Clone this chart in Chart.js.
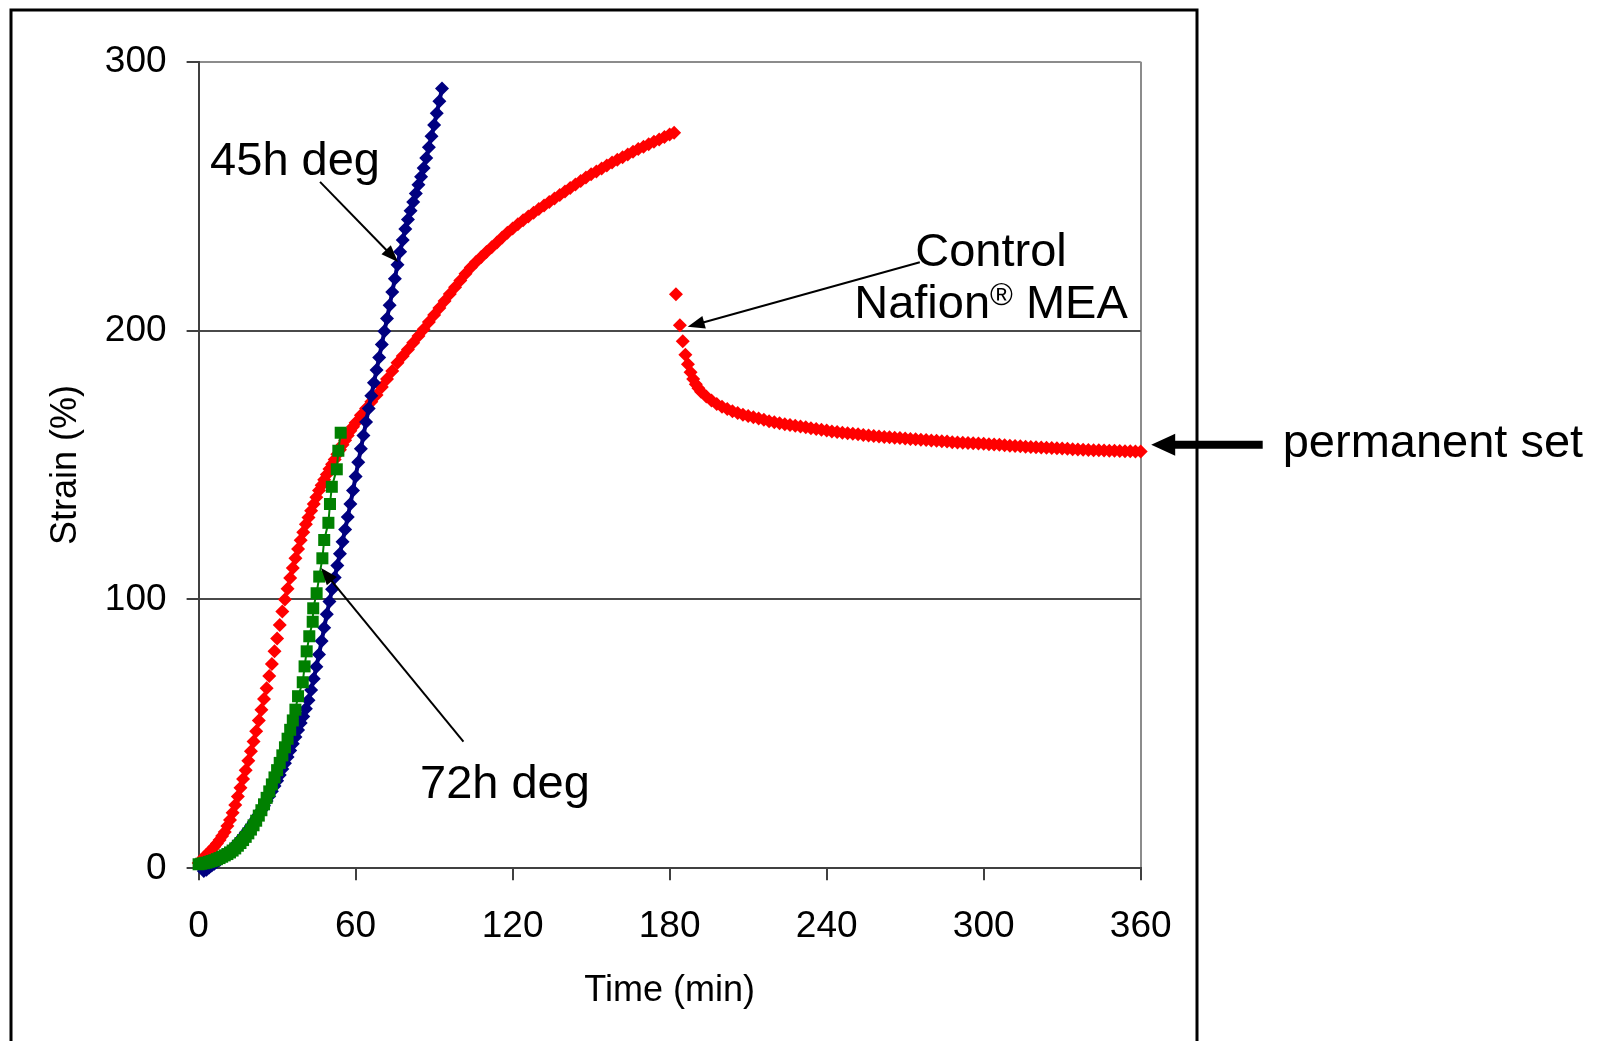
<!DOCTYPE html>
<html>
<head>
<meta charset="utf-8">
<script src="https://cdn.jsdelivr.net/npm/chart.js@4.4.1/dist/chart.umd.min.js"></script>
<style>
  html, body { margin: 0; padding: 0; background: #ffffff; }
  #wrap { width: 1597px; height: 1041px; position: relative; }
  canvas { display: block; }
</style>
</head>
<body>
<div id="wrap"><canvas id="c" width="1597" height="1041" style="width:1597px;height:1041px"></canvas></div>
<script>
// ---------------- data ----------------
const xTicks = [0, 60, 120, 180, 240, 300, 360];
const yTicks = [0, 100, 200, 300];

// 45h degraded (navy diamonds)
const blueTime = [2,3,4,5,6,7,8,9,10,11,12,13,14,15,16,17,18,19,20,21,22,23,24,25,26,27,28,29,30,31,32,33,34,35,36,37,38,39,40,41,42,43,44,45,46,47,48,49,50,51,52,53,54,55,56,57,58,59,60,61,62,63,64,65,66,67,68,69,70,71,72,73,74,75,76,77,78,79,80,81,82,83,84,85,86,87,88,89,90,91,92,93];
const blueStrain = [-1,-0.5,0.3,1.0,1.7,2.4,3.1,3.9,4.7,5.6,6.5,7.5,8.5,9.6,10.7,11.9,13.1,14.4,15.7,17.1,18.5,20.0,21.6,23.3,25.0,26.8,28.7,30.6,32.6,34.7,36.9,39.1,41.4,43.8,46.3,48.8,51.4,54.0,56.5,59.3,62.5,66.3,70.5,75.0,79.5,84.5,89.5,94.5,99.2,103.8,108.2,112.6,117.0,121.5,126.0,130.7,135.5,140.5,145.7,151.0,156.0,161.0,166.0,171.0,175.8,180.6,185.3,190.0,194.8,199.7,204.5,209.4,214.3,219.3,224.5,229.3,233.7,237.8,241.3,244.6,247.8,251.0,254.2,257.2,260.5,264.2,268.2,272.3,276.5,280.8,285.3,290.0];

// 72h degraded (green squares)
const greenTime = [0,1,2,3,4,5,6,7,8,9,10,11,12,13,14,15,16,17,18,19,20,21,22,23,24,25,26,27,28,29,30,31,32,33,34,35,36,37,38,39.8,40.5,41.3,42.3,43.6,43.8,45.1,46.1,47.3,48.0,49.6,50.2,50.9,52.8,53.4,54.3];
const greenStrain = [1.5,1.7,1.9,2.1,2.4,2.7,3.0,3.4,3.8,4.3,4.8,5.3,5.9,6.6,7.4,8.4,9.4,10.5,11.7,13.0,14.4,16.0,17.7,19.6,21.6,23.8,26.2,28.6,31.2,33.8,36.5,39.2,42.0,45.0,48.2,51.5,55.0,59.0,64.0,69.2,75.1,80.7,86.3,91.7,96.7,102.3,108.5,115.3,122.1,128.5,135.5,141.9,148.4,155.3,162.0];

// Control Nafion MEA (red diamonds): loading then recovery
const controlTime = [0,1,2,3,4,5,6,7,8,9,10,11,12,13,14,15,16,17,18,19,20,21,22,23,24,25,26,27,28,29,30,31,32,33,34,35,36,37,38,39,40,41,42,43,44,45,46,47,48,49,50,51,52,53,54,55,56,57,58,59,60,
  62,64,66,68,70,72,74,76,78,80,82,84,86,88,90,92,94,96,98,100,102,104,106,108,110,112,114,116,118,120,122,124,126,128,130,132,134,136,138,140,142,144,146,148,150,152,154,156,158,160,162,164,166,168,170,172,174,176,178,180,181.7,
  182.4,183.9,185,186,187,188,189,190,191,192,194,196,198,200,202,204,206,208,210,212,214,216,218,220,222,224,226,228,230,232,234,236,238,240,242,244,246,248,250,252,254,256,258,260,262,264,266,268,270,272,274,276,278,280,282,284,286,288,290,292,294,296,298,300,302,304,306,308,310,312,314,316,318,320,322,324,326,328,330,332,334,336,338,340,342,344,346,348,350,352,354,356,358,360];
const controlStrain = [2,3,4,5,6,7,8,9.2,10.5,12,13.5,15.7,18,20.7,23.5,26.7,30,33.2,36.5,40,43.5,47.2,51,55,59,63,67,71.5,76,80.7,85.5,90.5,95.5,100,104,108,111.7,115.3,118.8,122,125,128,130.5,133,135.5,138,140.5,142.5,144.5,146.5,148.5,150.3,152,154,155.7,157.5,159.2,161,162.7,164.2,165.7,
  168.5,171,173.5,176,179,182,185,188,190.5,193,195.5,198,200.5,203.2,205.8,208.4,211,213.6,216.1,218.6,221.1,223.5,225.5,227.4,229.2,231,232.8,234.6,236.4,238,239.5,241,242.4,243.8,245.2,246.5,247.8,249.1,250.4,251.7,253,254.3,255.6,256.9,258.1,259.2,260.3,261.4,262.5,263.5,264.5,265.5,266.5,267.5,268.4,269.3,270.2,271.1,272,272.9,273.6,
  213.5,202,196,191,187.5,184.5,182,180,178.5,177.2,175.5,174,172.7,171.7,170.8,170,169.3,168.7,168.2,167.8,167.3,166.8,166.3,165.9,165.5,165.2,164.9,164.6,164.3,164,163.7,163.4,163.1,162.8,162.5,162.3,162,161.8,161.6,161.4,161.2,161,160.8,160.6,160.4,160.3,160.1,160,159.9,159.7,159.6,159.4,159.3,159.1,159,158.8,158.7,158.5,158.4,158.3,158.2,158.1,158,157.9,157.7,157.6,157.5,157.3,157.2,157.1,157,156.8,156.7,156.6,156.5,156.4,156.3,156.2,156.1,156,155.9,155.8,155.7,155.6,155.5,155.5,155.4,155.3,155.3,155.2,155.1,155.1,155,155];

const seriesNames = ['45h deg', '72h deg', 'Control Nafion® MEA'];
const xTitle = 'Time (min)';
const yTitle = 'Strain (%)';

// ---------------- helpers ----------------
const FONT = "'Liberation Sans', Arial, Helvetica, sans-serif";
Chart.defaults.font.family = FONT;
const pts = (xs, ys) => xs.map((x, i) => ({ x: x, y: ys[i] }));

function arrow(ctx, x1, y1, x2, y2, lw, headLen, headHalf) {
  const a = Math.atan2(y2 - y1, x2 - x1);
  const bx = x2 - Math.cos(a) * headLen, by = y2 - Math.sin(a) * headLen;
  ctx.save();
  ctx.strokeStyle = '#000'; ctx.fillStyle = '#000'; ctx.lineWidth = lw; ctx.lineCap = 'butt';
  ctx.beginPath(); ctx.moveTo(x1, y1); ctx.lineTo(bx + Math.cos(a) * 2, by + Math.sin(a) * 2); ctx.stroke();
  ctx.beginPath();
  ctx.moveTo(x2, y2);
  ctx.lineTo(bx + Math.cos(a + Math.PI / 2) * headHalf, by + Math.sin(a + Math.PI / 2) * headHalf);
  ctx.lineTo(bx - Math.cos(a + Math.PI / 2) * headHalf, by - Math.sin(a + Math.PI / 2) * headHalf);
  ctx.closePath(); ctx.fill();
  ctx.restore();
}

const decor = {
  id: 'decor',
  afterDraw(chart) {
    const ctx = chart.ctx;
    const xs = chart.scales.x, ys = chart.scales.y;
    const X = v => xs.getPixelForValue(v), Y = v => ys.getPixelForValue(v);
    const area = chart.chartArea;
    ctx.save();
    // outer frame
    ctx.strokeStyle = '#000'; ctx.lineWidth = 3;
    ctx.beginPath();
    ctx.moveTo(11, 1100); ctx.lineTo(11, 10); ctx.lineTo(1197, 10); ctx.lineTo(1197, 1100);
    ctx.stroke();

    ctx.fillStyle = '#000';
    ctx.font = '47px ' + FONT;
    ctx.textBaseline = 'alphabetic';
    // 45h deg
    ctx.textAlign = 'left';
    ctx.fillText('45h deg', X(4.4), Y(257.9));
    arrow(ctx, X(46.4), Y(255.3), X(76.2), Y(225.5), 2, 17, 6.5);
    // 72h deg
    ctx.fillText('72h deg', X(84.6), Y(26.2));
    arrow(ctx, X(101.2), Y(47.1), X(46.8), Y(111.7), 2, 17, 6.5);
    // Control Nafion MEA
    const cx = X(302.8);
    ctx.textAlign = 'center';
    ctx.fillText('Control', cx, Y(224.0));
    const p1 = 'Nafion', p2 = '\u00AE', p3 = ' MEA';
    ctx.font = '47px ' + FONT; const w1 = ctx.measureText(p1).width, w3 = ctx.measureText(p3).width;
    ctx.font = '31px ' + FONT; const w2 = ctx.measureText(p2).width;
    let sx = cx - (w1 + w2 + w3) / 2;
    const by = Y(204.7);
    ctx.textAlign = 'left';
    ctx.font = '47px ' + FONT; ctx.fillText(p1, sx, by); sx += w1;
    ctx.font = '31px ' + FONT; ctx.fillText(p2, sx, by - 13); sx += w2;
    ctx.font = '47px ' + FONT; ctx.fillText(p3, sx, by);
    arrow(ctx, X(275.6), Y(225.4), X(186.9), Y(201.4), 2, 17, 6.5);
    // permanent set
    const ay = Y(157.5);
    arrow(ctx, area.right + 122, ay, area.right + 10.5, ay, 8, 24, 11);
    ctx.font = '47px ' + FONT; ctx.textAlign = 'left';
    ctx.fillText('permanent set', area.right + 142, Y(152.9));
    ctx.restore();
  }
};

const tickFont = { family: FONT, size: 37 };
const titleFont = { family: FONT, size: 36 };

new Chart(document.getElementById('c').getContext('2d'), {
  type: 'scatter',
  data: {
    datasets: [
      { label: seriesNames[1], data: pts(greenTime, greenStrain), order: 1, showLine: true,
        borderColor: '#008000', borderWidth: 2, backgroundColor: '#008000',
        pointStyle: 'rect', pointRadius: 8.5, pointBorderWidth: 0, pointBackgroundColor: '#008000', clip: false },
      { label: seriesNames[0], data: pts(blueTime, blueStrain), order: 2, showLine: true,
        borderColor: '#000080', borderWidth: 4, backgroundColor: '#000080',
        pointStyle: 'rectRot', pointRadius: 7, pointBorderWidth: 0, pointBackgroundColor: '#000080', clip: false },
      { label: seriesNames[2], data: pts(controlTime, controlStrain), order: 3, showLine: false,
        backgroundColor: '#ff0000', borderColor: '#ff0000',
        pointStyle: 'rectRot', pointRadius: 7, pointBorderWidth: 0, clip: false }
    ]
  },
  options: {
    responsive: false,
    animation: false,
    devicePixelRatio: 1,
    layout: { padding: { left: 0, top: 61.7, right: 1597 - 1140.7, bottom: 0 } },
    plugins: { legend: { display: false }, tooltip: { enabled: false } },
    scales: {
      x: {
        type: 'linear', position: 'bottom', min: 0, max: 360,
        afterBuildTicks: s => { s.ticks = xTicks.map(v => ({ value: v })); },
        afterFit: s => { s.height = 1041 - 868.3; },
        ticks: { font: tickFont, color: '#000', padding: 24, maxRotation: 0, autoSkip: false },
        grid: {
          color: c => (c.tick && c.tick.value === 360) ? '#8c8c8c' : 'rgba(0,0,0,0)',
          lineWidth: 2, tickLength: 12, tickColor: '#404040', tickWidth: 2
        },
        border: { display: true, color: '#404040', width: 2 },
        title: { display: true, text: xTitle, font: titleFont, color: '#000', padding: { top: 0, bottom: 28 } }
      },
      y: {
        type: 'linear', position: 'left', min: 0, max: 300,
        afterBuildTicks: s => { s.ticks = yTicks.map(v => ({ value: v })); },
        afterFit: s => { s.width = 198.6; },
        ticks: { font: tickFont, color: '#000', padding: 20 },
        grid: {
          color: c => {
            const v = c.tick ? c.tick.value : null;
            if (v === 300) return '#8c8c8c';
            if (v === 0) return 'rgba(0,0,0,0)';
            return '#4a4a4a';
          },
          lineWidth: 2, tickLength: 12, tickColor: '#404040', tickWidth: 2
        },
        border: { display: true, color: '#404040', width: 2 },
        title: { display: true, text: yTitle, font: titleFont, color: '#000', padding: { top: 44, bottom: 0 } }
      }
    }
  },
  plugins: [decor]
});
</script>
</body>
</html>
